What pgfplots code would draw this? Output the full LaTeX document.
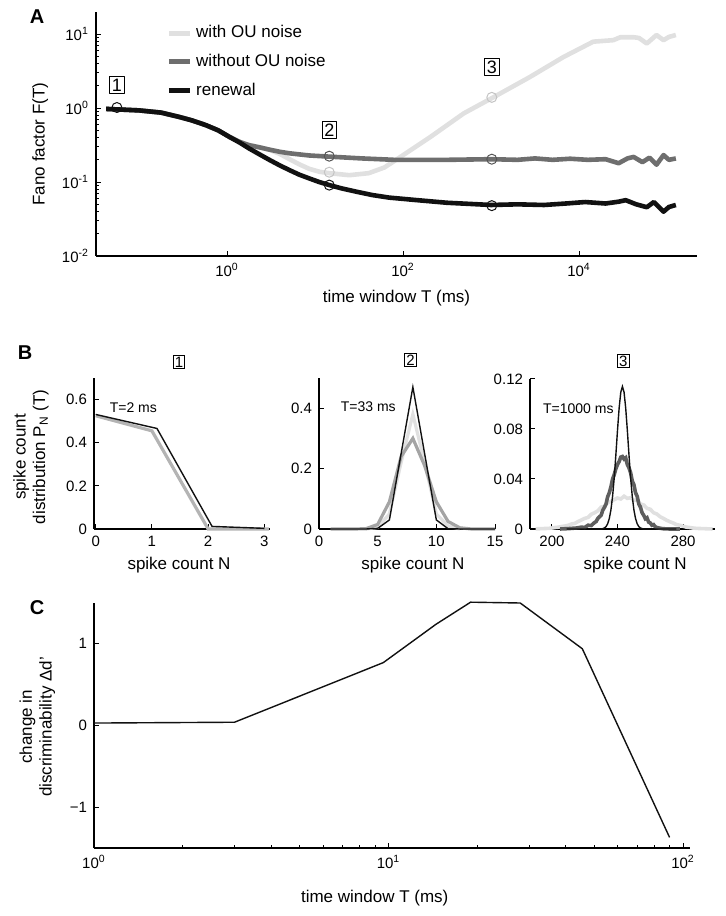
\documentclass[border=0pt]{standalone}
\usepackage{pgfplots}
\pgfplotsset{compat=1.18}
\usepackage{fontspec}
\setmainfont{Liberation Sans}
\definecolor{lightou}{HTML}{E0E0E0}
\definecolor{darkou}{HTML}{6E6E6E}
\definecolor{renew}{HTML}{111111}
\definecolor{midgray}{HTML}{A4A4A4}
\definecolor{bonegray}{HTML}{B4B4B4}
\definecolor{bthree}{HTML}{5E5E5E}
\definecolor{lcirc}{HTML}{C4C4C4}
\definecolor{dcirc}{HTML}{555555}
\pgfplotsset{
  every axis/.append style={
    scale only axis, clip=false,
    axis x line=bottom, axis y line=left,
    axis line style={-, line width=0.8pt},
    tick align=inside,
    tick style={black, line width=0.5pt},
    major tick length=2.5pt, minor tick length=1.5pt,
    tick label style={font=\fontsize{7.5}{8}\selectfont},
    label style={font=\fontsize{8.5}{9.8}\selectfont},
    /pgf/number format/assume math mode=true,
  },
}
\tikzset{
  boxlab/.style={draw, line width=0.5pt, inner sep=1.1pt, font=\fontsize{9}{9}\selectfont},
  boxlabs/.style={draw, line width=0.5pt, inner sep=0.8pt, font=\fontsize{7.5}{7.5}\selectfont},
  panel/.style={font=\bfseries\fontsize{10}{10}\selectfont},
}
\begin{document}
\begin{tikzpicture}
\useasboundingbox (0,0) rectangle (362.5pt,458pt);
% ---------------- Panel A ----------------
\begin{axis}[at={(48pt,330pt)}, anchor=south west, width=300.5pt, height=122pt,
  xmode=log, ymode=log, xmin=0.0324, xmax=2.19e5, ymin=0.01, ymax=20,
  xtick={1,100,10000},
  xticklabels={10\textsuperscript{0},10\textsuperscript{2},10\textsuperscript{4}},
  xminorticks=false,
  ytick={0.01,0.1,1,10},
  yticklabels={10\textsuperscript{-2},10\textsuperscript{-1},10\textsuperscript{0},10\textsuperscript{1}},
  xlabel={time window T (ms)}, ylabel={Fano factor F(T)},
  xlabel style={at={(axis description cs:0.5,-0.172)}, anchor=center},
  ylabel style={at={(axis description cs:-0.093,0.459)}, anchor=center},
  legend style={at={(0.1165,0.962)}, anchor=north west, draw=none, fill=none, inner sep=0pt,
    font=\fontsize{8.5}{9.5}\selectfont, row sep=2.6pt},
  legend cell align=left,
  legend image code/.code={\draw[#1, line width=2.4pt] (0pt,0pt) -- (10.5pt,0pt);},
  line join=round,
]
\addplot[lightou, line width=2.3pt] coordinates {
(0.0422,0.977) (0.1,0.933) (0.178,0.871) (0.288,0.759) (0.398,0.684) (0.575,0.589)
(0.794,0.501) (1.07,0.407) (1.41,0.347) (1.78,0.316) (2.34,0.295) (3.02,0.275)
(3.98,0.240) (5.13,0.204) (6.61,0.174) (8.61,0.151) (11.2,0.138) (14.5,0.132) (24.5,0.124)
(40.7,0.132) (61.7,0.158) (93.3,0.219) (204,0.407) (490,0.851) (1070,1.41) (2750,2.63)
(6610,4.9) (14500,7.94) (24500,8.32) (29500,9.12) (41700,9.12) (48000,8.9) (58900,7.5)
(75900,9.77) (91200,8.32) (105000,9.2) (126000,9.77)};
\addlegendentry{with OU noise}
\addplot[darkou, line width=2.3pt] coordinates {
(0.0422,0.977) (0.1,0.933) (0.178,0.871) (0.288,0.759) (0.398,0.684) (0.575,0.589)
(0.794,0.501) (1.07,0.407) (1.41,0.347) (1.78,0.316) (2.34,0.295) (3.02,0.275)
(3.98,0.257) (5.13,0.245) (6.61,0.237) (8.61,0.229) (14.5,0.221) (33.9,0.209) (79.4,0.200)
(316,0.200) (1000,0.204) (2000,0.200) (3160,0.209) (5000,0.200) (7940,0.207) (12600,0.200)
(20000,0.204) (28200,0.180) (35500,0.209) (41700,0.219) (52500,0.186) (63100,0.214)
(75900,0.172) (91200,0.232) (105000,0.200) (126000,0.209)};
\addlegendentry{without OU noise}
\addplot[renew, line width=2.3pt] coordinates {
(0.0422,0.977) (0.1,0.933) (0.178,0.871) (0.288,0.759) (0.398,0.684) (0.575,0.589)
(0.794,0.501) (1.07,0.407) (1.41,0.339) (1.78,0.285) (2.34,0.237) (3.02,0.200)
(3.98,0.168) (5.13,0.145) (6.61,0.126) (8.61,0.112) (11.2,0.100) (14.5,0.0912) (20,0.0822)
(29.5,0.0741) (44.7,0.0668) (69.2,0.0617) (132,0.0575) (316,0.0525) (1000,0.049)
(2000,0.050) (4000,0.049) (7080,0.0513) (11750,0.0537) (20000,0.0513) (28200,0.0543)
(33900,0.0569) (44700,0.050) (58900,0.0457) (70800,0.0537) (91200,0.0398) (105000,0.046)
(126000,0.049)};
\addlegendentry{renewal}
\addplot[only marks, mark=o, mark size=2.5pt, renew, mark options={line width=0.5pt}, forget plot]
 coordinates {(0.056,1.02) (14.5,0.091) (1020,0.048)};
\addplot[only marks, mark=o, mark size=2.5pt, dcirc, mark options={line width=0.5pt}, forget plot]
 coordinates {(14.5,0.224) (1020,0.204)};
\addplot[only marks, mark=o, mark size=2.5pt, lcirc, mark options={line width=0.5pt}, forget plot]
 coordinates {(14.5,0.136) (1020,1.40)};
\node[boxlab] at (axis cs:0.056,2.06) {1};
\node[boxlab] at (axis cs:14.5,0.51) {2};
\node[boxlab] at (axis cs:1020,3.6) {3};
\node[panel] at (axis description cs:-0.098,0.98) {A};
\end{axis}
% ---------------- Panel B1 ----------------
\begin{axis}[at={(47pt,193.5pt)}, anchor=south west, width=88pt, height=75.5pt,
  xmin=-0.03, xmax=3.1, ymin=0, ymax=0.7,
  xtick={0,1,2,3}, xticklabels={0,1,2,3},
  ytick={0,0.2,0.4,0.6}, yticklabels={0,0.2,0.4,0.6},
  xlabel={spike count N},
  ylabel={spike count\\distribution P\textsubscript{N} (T)},
  xlabel style={at={(axis description cs:0.483,-0.238)}, anchor=center},
  ylabel style={at={(axis description cs:-0.358,0.477)}, anchor=center, align=center},
]
\addplot[bonegray, line width=1.6pt] coordinates {(0,0.525) (1,0.455) (2,0) (3.08,0)};
\addplot[renew, line width=0.7pt] coordinates {(0,0.531) (1.09,0.466) (2.07,0.012) (3,0.003)};
\node[boxlabs] at (axis description cs:0.483,1.106) {1};
\node[font=\fontsize{7}{7}\selectfont] at (axis cs:0.67,0.562) {T=2 ms};
\node[panel] at (axis description cs:-0.392,1.166) {B};
\end{axis}
% ---------------- Panel B2 ----------------
\begin{axis}[at={(159.5pt,193.5pt)}, anchor=south west, width=88pt, height=75.5pt,
  xmin=0, xmax=15, ymin=0, ymax=0.5,
  xtick={0,5,10,15}, xticklabels={0,5,10,15},
  ytick={0,0.2,0.4}, yticklabels={0,0.2,0.4},
  xlabel={spike count N},
  xlabel style={at={(axis description cs:0.534,-0.238)}, anchor=center},
]
\addplot[lightou, line width=1.6pt] coordinates {(4,0) (5,0.005) (6,0.05) (7,0.22) (8,0.38) (9,0.22) (10,0.05) (11,0.01) (12,0)};
\addplot[midgray, line width=1.6pt] coordinates {(1,0) (2,0) (3,0) (4,0.001) (5,0.015) (6,0.09) (7,0.24) (8,0.30) (9,0.21) (10,0.09) (11,0.025) (12,0.004) (13,0) (14,0) (15,0)};
\addplot[renew, line width=0.7pt] coordinates {(1,0) (4,0) (5,0.002) (6,0.03) (7,0.25) (8,0.47) (9,0.25) (10,0.03) (11,0.001) (12,0) (15,0)};
\node[boxlabs] at (axis description cs:0.52,1.12) {2};
\node[font=\fontsize{7}{7}\selectfont] at (axis cs:4.2,0.406) {T=33 ms};
\end{axis}
% ---------------- Panel B3 ----------------
\begin{axis}[at={(265pt,193.5pt)}, anchor=south west, width=92.5pt, height=75pt,
  xmin=186.6, xmax=299.5, ymin=0, ymax=0.12,
  xtick={200,240,280}, xticklabels={200,240,280},
  ytick={0,0.04,0.08,0.12}, yticklabels={0,0.04,0.08,0.12},
  xlabel={spike count N},
  xlabel style={at={(axis description cs:0.568,-0.24)}, anchor=center},
]
\addplot[lightou, line width=1.8pt] coordinates {
(190,0.0001) (194,0.0003) (198,0.0005) (200,0.0008) (202,0.0012) (204,0.0015) (206,0.0020)
(208,0.0024) (210,0.0030) (212,0.0040) (214,0.0045) (216,0.0060) (218,0.0072) (220,0.0085)
(222,0.0092) (224,0.0118) (226,0.0130) (228,0.0145) (230,0.0175) (232,0.0180) (234,0.0212)
(236,0.0220) (238,0.0235) (240,0.0248) (242,0.0240) (244,0.0262) (246,0.0245) (248,0.0250)
(250,0.0228) (252,0.0235) (254,0.0200) (256,0.0192) (258,0.0165) (260,0.0158) (262,0.0130)
(264,0.0120) (266,0.0098) (268,0.0085) (270,0.0070) (272,0.0058) (274,0.0048) (276,0.0035)
(278,0.0030) (280,0.0022) (282,0.0015) (284,0.0012) (286,0.0008) (288,0.0005) (292,0.0003)
(296,0.0001) (298,0)};
\addplot[bthree, line width=1.8pt] coordinates {
(205,0) (210,0.0003) (215,0.0008) (218,0.0015) (220,0.0012) (222,0.0030) (224,0.0028)
(226,0.0052) (227,0.0060) (228,0.0085) (229,0.0098) (230,0.0110) (231,0.0150) (232,0.0172)
(233,0.0200) (234,0.0258) (235,0.0290) (236,0.0338) (237,0.0400) (238,0.0435) (239,0.0482)
(240,0.0515) (241,0.0540) (242,0.0575) (243,0.0580) (244,0.0560) (245,0.0570) (246,0.0515)
(247,0.0490) (248,0.0450) (249,0.0385) (250,0.0355) (251,0.0290) (252,0.0262) (253,0.0200)
(254,0.0175) (255,0.0130) (256,0.0110) (257,0.0082) (258,0.0090) (259,0.0055) (260,0.0048)
(261,0.0030) (262,0.0035) (263,0.0018) (264,0.0012) (266,0.0006) (268,0.0002) (272,0) (278,0)};
\addplot[renew, line width=0.7pt] coordinates {
(209,0) (230,0) (231,0.0003) (232,0.0008) (233,0.0019) (234,0.0042) (235,0.0084) (236,0.0154)
(237,0.0262) (238,0.041) (239,0.0593) (240,0.079) (241,0.0968) (242,0.1094) (243,0.114)
(244,0.1094) (245,0.0968) (246,0.079) (247,0.0593) (248,0.041) (249,0.0262) (250,0.0154)
(251,0.0084) (252,0.0042) (253,0.0019) (254,0.0008) (255,0.0003) (256,0) (276,0)};
\node[boxlabs] at (axis description cs:0.504,1.12) {3};
\node[font=\fontsize{7}{7}\selectfont] at (axis cs:216.1,0.0966) {T=1000 ms};
\end{axis}
% ---------------- Panel C ----------------
\begin{axis}[at={(47pt,34pt)}, anchor=south west, width=298pt, height=122.5pt,
  xmode=log, xmin=1, xmax=105.6, ymin=-1.5, ymax=1.5,
  xtick={1,10,100},
  xticklabels={10\textsuperscript{0},10\textsuperscript{1},10\textsuperscript{2}},
  ytick={-1,0,1}, yticklabels={−1,0,1},
  xlabel={time window T (ms)},
  ylabel={change in\\discriminability Δd’},
  xlabel style={at={(axis description cs:0.471,-0.204)}, anchor=center},
  ylabel style={at={(axis description cs:-0.095,0.494)}, anchor=center, align=center},
]
\addplot[renew, line width=0.7pt] coordinates {
(1,0.03) (3,0.04) (9.6,0.77) (14.5,1.24) (19,1.51) (28,1.50) (45.5,0.94) (90,-1.37)};
\node[panel] at (axis description cs:-0.0956,0.98) {C};
\end{axis}
\end{tikzpicture}
\end{document}
